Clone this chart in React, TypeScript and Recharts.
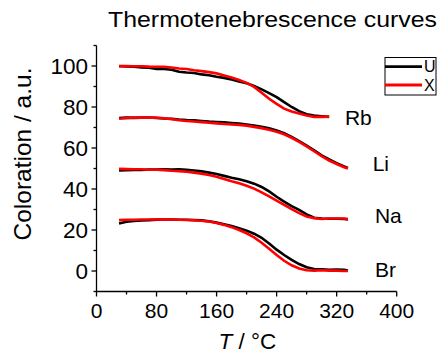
import React from "react";
import { LineChart, Line, XAxis, YAxis, ReferenceDot } from "recharts";

const tempsRb = [30, 40, 50, 60, 70, 80, 90, 100, 110, 120, 130, 140, 150, 160, 170, 180, 190, 200, 210, 220, 230, 240, 250, 260, 270, 280, 290, 300, 310];
const rbU = [100, 99.8, 99.6, 99.3, 99.2, 98.6, 98.6, 98.2, 97.2, 96.8, 96.6, 95.9, 95.5, 94.8, 94.2, 93.4, 92.4, 91.6, 90.3, 88.6, 86.8, 84.8, 82.4, 80.0, 78.0, 76.5, 75.8, 75.5, 75.2];
const rbX = [99.8, 100, 99.9, 99.9, 99.7, 99.6, 99.6, 99.3, 98.8, 98.5, 97.9, 97.5, 97.0, 96.4, 95.4, 94.4, 93.2, 91.8, 89.8, 87.0, 84.0, 81.5, 79.2, 77.8, 76.8, 75.9, 75.2, 75.2, 75.3];

const temps = [30, 40, 50, 60, 70, 80, 90, 100, 110, 120, 130, 140, 150, 160, 170, 180, 190, 200, 210, 220, 230, 240, 250, 260, 270, 280, 290, 300, 310, 320, 330, 335];
const liU = [74.6, 74.8, 74.7, 74.8, 74.9, 74.6, 74.4, 74.3, 73.9, 73.6, 73.5, 73.2, 72.9, 72.7, 72.5, 72.2, 71.9, 71.5, 71.0, 70.4, 69.6, 68.6, 67.2, 65.4, 63.4, 61.2, 58.8, 56.4, 54.4, 52.6, 51.0, 50.3];
const liX = [74.3, 74.6, 74.9, 74.8, 74.8, 74.8, 74.5, 74.1, 73.5, 73.2, 72.9, 72.6, 72.3, 72.0, 71.7, 71.5, 71.3, 70.9, 70.3, 69.7, 68.9, 67.9, 66.7, 65.0, 63.0, 60.8, 58.4, 56.0, 53.9, 52.2, 50.6, 50.0];
const naU = [49.0, 49.2, 49.3, 49.3, 49.5, 49.5, 49.6, 49.5, 49.6, 49.4, 49.0, 48.6, 48.0, 47.3, 46.4, 45.5, 44.8, 43.8, 42.6, 41.0, 38.8, 36.2, 33.8, 31.6, 29.8, 27.6, 26.0, 25.6, 25.5, 25.5, 25.4, 25.2];
const naX = [49.8, 49.7, 49.6, 49.6, 49.4, 49.4, 49.2, 48.9, 48.7, 48.4, 48.0, 47.5, 46.8, 46.0, 44.9, 43.8, 42.8, 41.6, 40.2, 38.4, 36.4, 34.3, 32.2, 30.2, 28.2, 26.6, 25.8, 25.4, 25.6, 25.6, 25.6, 25.3];
const brU = [23.2, 24.0, 24.4, 24.6, 24.8, 25.0, 25.1, 25.1, 25.0, 25.0, 24.9, 24.7, 24.3, 23.6, 22.8, 21.9, 20.9, 19.7, 18.2, 16.2, 13.4, 10.4, 7.8, 5.4, 3.4, 1.8, 1.0, 0.8, 0.6, 0.7, 0.6, 0.2];
const brX = [24.8, 25.0, 25.0, 25.1, 25.1, 25.2, 25.2, 25.1, 25.0, 24.9, 24.7, 24.5, 24.1, 23.4, 22.5, 21.4, 20.0, 18.4, 16.4, 13.8, 10.8, 7.8, 5.0, 2.8, 1.2, 0.4, 0.2, 0.4, 0.2, 0.2, 0.0, 0.0];

const xTicks = [0, 40, 80, 120, 160, 200, 240, 280, 320, 360, 400];
const yTicks = [-10, 0, 10, 20, 30, 40, 50, 60, 70, 80, 90, 100, 110];

const sampleNames = ["Rb", "Li", "Na", "Br"];
const sampleLabelT = [331, 368, 371, 371];
const sampleLabelV = [74.9, 52.7, 27.3, 1.0];

const seriesNames = ["U", "X"];
const seriesColors = ["#000000", "#ff0000"];

const toPoints = (ts: number[], vs: number[]) => ts.map((t, i) => ({ t, v: vs[i] }));

const groups = [
  { u: toPoints(tempsRb, rbU), x: toPoints(tempsRb, rbX) },
  { u: toPoints(temps, liU), x: toPoints(temps, liX) },
  { u: toPoints(temps, naU), x: toPoints(temps, naX) },
  { u: toPoints(temps, brU), x: toPoints(temps, brX) },
];

const FONT = "'Liberation Sans', Arial, sans-serif";

const XTick = (props: any) => {
  const { x, y, payload } = props;
  const major = payload.value % 80 === 0;
  return (
    <g>
      <line x1={x} x2={x} y1={y} y2={y + (major ? 5 : 3)} stroke="#000" strokeWidth={1.3} />
      {major && (
        <text x={x} y={y + 26.5} textAnchor="middle" fontSize={21} fontFamily={FONT} fill="#000">
          {payload.value}
        </text>
      )}
    </g>
  );
};

const YTick = (props: any) => {
  const { x, y, payload } = props;
  const major = payload.value % 20 === 0;
  return (
    <g>
      <line x1={x} x2={x - (major ? 5 : 3)} y1={y} y2={y} stroke="#000" strokeWidth={1.3} />
      {major && (
        <text x={x - 8.5} y={y} dy="0.36em" textAnchor="end" fontSize={22.5} fontFamily={FONT} fill="#000">
          {payload.value}
        </text>
      )}
    </g>
  );
};

const makeLabelShape = (name: string) => (props: any) => {
  const { cx, cy } = props;
  return (
    <text x={cx} y={cy} dy="0.36em" textAnchor="start" fontSize={21} fontFamily={FONT} fill="#000">
      {name}
    </text>
  );
};

export default function App() {
  return (
    <div style={{ position: "absolute", left: 0, top: 0, width: 440, height: 358, background: "#fff" }}>
      <LineChart width={440} height={358} margin={{ top: 45.5, right: 43.3, bottom: 26.5, left: 36.5 }}>
        <XAxis
          type="number"
          dataKey="t"
          domain={[0, 400]}
          ticks={xTicks}
          interval={0}
          height={40}
          tickSize={0}
          tickMargin={0}
          tickLine={false}
          axisLine={{ stroke: "#000", strokeWidth: 1.3 }}
          tick={<XTick />}
          allowDataOverflow
        />
        <YAxis
          type="number"
          dataKey="v"
          domain={[-10, 110]}
          ticks={yTicks}
          interval={0}
          width={60}
          tickSize={0}
          tickMargin={0}
          tickLine={false}
          axisLine={{ stroke: "#000", strokeWidth: 1.3 }}
          tick={<YTick />}
          allowDataOverflow
        />
        {groups.map((g, i) => (
          <Line
            key={`u${i}`}
            data={g.u}
            dataKey="v"
            type="linear"
            stroke={seriesColors[0]}
            strokeWidth={2.6}
            dot={false}
            isAnimationActive={false}
          />
        ))}
        {groups.map((g, i) => (
          <Line
            key={`x${i}`}
            data={g.x}
            dataKey="v"
            type="linear"
            stroke={seriesColors[1]}
            strokeWidth={2.6}
            dot={false}
            isAnimationActive={false}
          />
        ))}
        {sampleNames.map((n, i) => (
          <ReferenceDot
            key={n}
            x={sampleLabelT[i]}
            y={sampleLabelV[i]}
            r={0}
            ifOverflow="visible"
            shape={makeLabelShape(n)}
          />
        ))}
      </LineChart>
      <svg
        width={440}
        height={358}
        style={{ position: "absolute", left: 0, top: 0, pointerEvents: "none" }}
      >
        <text x={108} y={27} fontSize={22.5} fontFamily={FONT} fill="#000" textLength={329} lengthAdjust="spacingAndGlyphs">
          Thermotenebrescence curves
        </text>
        <text
          x={22}
          y={154}
          transform="rotate(-90 22 154)"
          textAnchor="middle"
          dy="0.36em"
          fontSize={24.5}
          fontFamily={FONT}
          fill="#000"
        >
          Coloration / a.u.
        </text>
        <text x={247.5} y={348.5} textAnchor="middle" fontSize={22.5} fontFamily={FONT} fill="#000">
          <tspan fontStyle="italic">T</tspan> / °C
        </text>
        <rect x={385} y={57.5} width={51} height={37.5} fill="#fff" stroke="#000" strokeWidth={1} />
        {seriesNames.map((s, i) => (
          <g key={s}>
            <line x1={385} x2={422} y1={66.7 + i * 18.3} y2={66.7 + i * 18.3} stroke={seriesColors[i]} strokeWidth={2.8} />
            <text x={424} y={66.7 + i * 18.3} dy="0.36em" fontSize={16} fontFamily={FONT} fill="#000">
              {s}
            </text>
          </g>
        ))}
      </svg>
    </div>
  );
}
